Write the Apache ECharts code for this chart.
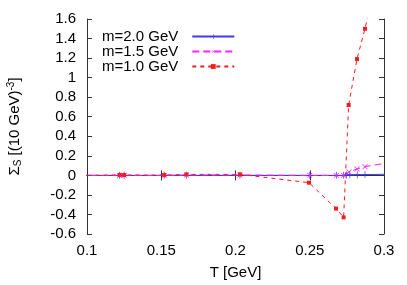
<!DOCTYPE html>
<html><head><meta charset="utf-8">
<script src="https://cdn.jsdelivr.net/npm/echarts@6/dist/echarts.min.js"></script>
<style>html,body{margin:0;padding:0;background:#fff}#c{width:407px;height:285px}</style>
</head><body><div id="c"></div>
<script>
var tBlue = [0.095, 0.122, 0.125, 0.152, 0.167, 0.203, 0.25, 0.268, 0.2728, 0.2748, 0.277, 0.282, 0.2872, 0.305];
var vBlue = [0, 0, 0, 0, 0, 0, 0, 0, 0, 0.004, 0.006, 0.007, 0.008, 0.012];
var tMag = [0.095, 0.122, 0.125, 0.152, 0.167, 0.203, 0.25, 0.268, 0.2728, 0.2764, 0.2818, 0.2872, 0.305];
var vMag = [0, 0, 0, 0, 0.004, 0.004, 0, 0, 0, 0.035, 0.065, 0.089, 0.135];
var tRed = [0.095, 0.122, 0.125, 0.152, 0.167, 0.203, 0.2495, 0.2677, 0.2728, 0.2762, 0.2818, 0.2872, 0.293];
var vRed = [0, 0.004, 0.004, 0.003, 0.01, 0.01, -0.075, -0.34, -0.43, 0.72, 1.19, 1.50, 1.87];
var names = ['m=2.0 GeV', 'm=1.5 GeV', 'm=1.0 GeV'];
var xTicks = ['0.1', '0.15', '0.2', '0.25', '0.3'];
var yTicks = ['-0.6','-0.4','-0.2','0','0.2','0.4','0.6','0.8','1','1.2','1.4','1.6'];

function pairs(t, v){ return t.map(function(x,i){return [x, v[i]];}); }
var FONT = 'Liberation Sans';
var FS = 15;
var frame = {lineStyle:{color:'#333', width:1}};
var chart = echarts.init(document.getElementById('c'));
var plus = 'path://M4.5,0H5.5V4.5H10V5.5H5.5V10H4.5V5.5H0V4.5H4.5Z';
chart.setOption({
  animation:false,
  grid:{left:87, right:23, top:19, bottom:51, containLabel:false, outerBoundsMode:'none'},
  legend:{
    left:97, top:24, orient:'vertical', align:'right', itemGap:0, itemWidth:42, itemHeight:6,
    textStyle:{fontFamily:FONT, fontSize:FS, lineHeight:14, color:'#000', padding:[0,9,0,0]},
    data:names
  },
  xAxis:[{
    type:'value', min:0.1, max:0.3, interval:0.05, position:'bottom',
    name:'T [GeV]', nameLocation:'middle', nameGap:31,
    nameTextStyle:{fontFamily:FONT, fontSize:FS, color:'#000'},
    axisLine:frame, axisTick:{inside:true, length:5, lineStyle:{color:'#333'}},
    axisLabel:{fontFamily:FONT, fontSize:FS, color:'#000', margin:9, formatter:function(v){var s=xTicks.find(function(t){return Math.abs(parseFloat(t)-v)<1e-6;});return s||'';}},
    splitLine:{show:false}
  },{
    type:'value', min:0.1, max:0.3, interval:0.05, position:'top',
    axisLine:frame, axisTick:{inside:true, length:5, lineStyle:{color:'#333'}},
    axisLabel:{show:false}, splitLine:{show:false}
  }],
  yAxis:[{
    type:'value', min:-0.6, max:1.6, interval:0.2, position:'left',
    name:'{a|Σ}{s|S}{a| [(10 GeV)}{p|-3}{a|]}', nameLocation:'middle', nameGap:64,
    nameTextStyle:{rich:{
      a:{fontFamily:FONT, fontSize:FS, color:'#000'},
      s:{fontFamily:FONT, fontSize:10, color:'#000', verticalAlign:'bottom', padding:[7,0,0,0]},
      p:{fontFamily:FONT, fontSize:10, color:'#000', verticalAlign:'top', padding:[0,0,7,0]}
    }},
    axisLine:frame, axisTick:{inside:true, length:5, lineStyle:{color:'#333'}},
    axisLabel:{fontFamily:FONT, fontSize:FS, color:'#000', margin:11, formatter:function(v){var s=yTicks.find(function(t){return Math.abs(parseFloat(t)-v)<1e-6;});return s||'';}},
    splitLine:{show:false}
  },{
    type:'value', min:-0.6, max:1.6, interval:0.2, position:'right',
    axisLine:frame, axisTick:{inside:true, length:5, lineStyle:{color:'#333'}},
    axisLabel:{show:false}, splitLine:{show:false}
  }],
  series:[
    {name:names[0], type:'line', data:pairs(tBlue,vBlue), clip:true, symbol:plus, symbolSize:7,
     lineStyle:{color:'#3a3aff', width:1}, itemStyle:{color:'#3a3aff'}},
    {name:names[1], type:'line', data:pairs(tMag,vMag), clip:true, symbol:plus, symbolRotate:45, symbolSize:7,
     lineStyle:{color:'#ff22ff', width:1, type:[7,4]}, itemStyle:{color:'#ff22ff'}},
    {name:names[2], type:'line', data:pairs(tRed,vRed), clip:true, symbol:'rect', symbolSize:4,
     lineStyle:{color:'#ff1a1a', width:1, type:[4,4]}, itemStyle:{color:'#ff1a1a'}}
  ]
});
</script></body></html>
